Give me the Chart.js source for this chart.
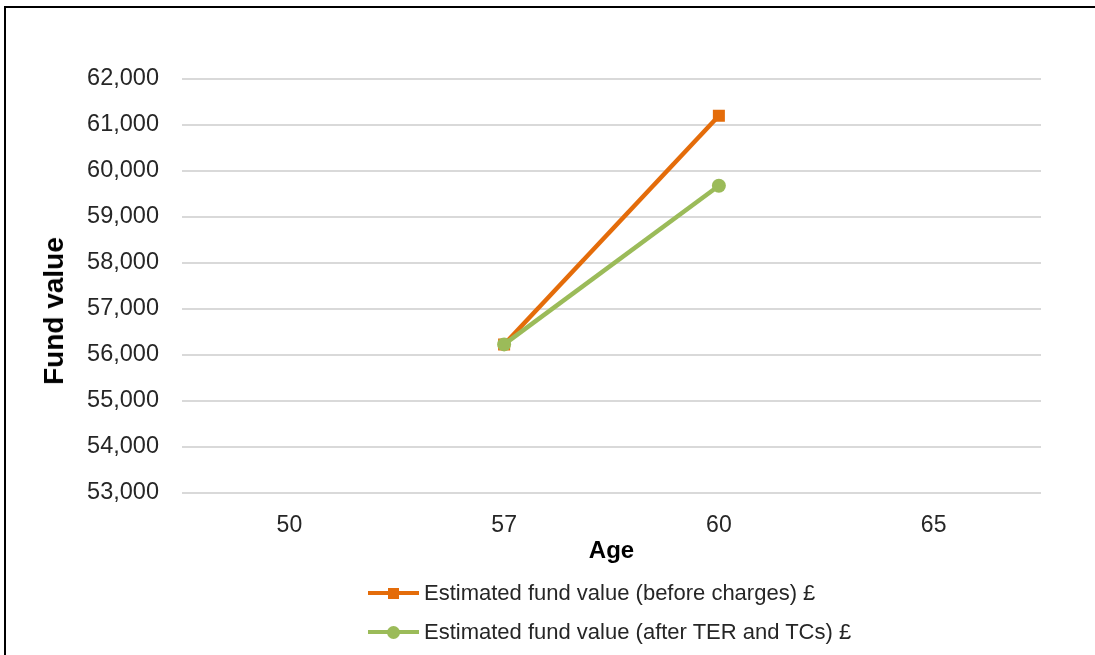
<!DOCTYPE html>
<html>
<head>
<meta charset="utf-8">
<script src="https://cdn.jsdelivr.net/npm/chart.js@4"></script>
<style>
  body { margin: 0; background: #fff; }
  #wrap { position: relative; width: 1095px; height: 655px; overflow: hidden; font-family: "Liberation Sans", Arial, sans-serif; }
  #frame { position: absolute; left: 4px; top: 6px; width: 1200px; height: 700px; border-left: 2px solid #000; border-top: 2px solid #000; }
  canvas { position: absolute; left: 0; top: 0; }
  #ytitle { position: absolute; left: 54px; top: 311px; font-size: 28px; font-weight: bold; color: #000; white-space: nowrap; transform: translate(-50%, -50%) rotate(-90deg); }
  .leg { position: absolute; left: 368px; font-size: 22px; color: #262626; white-space: nowrap; }
  .leg .ln { position: absolute; left: 0; top: 50%; width: 51px; height: 4px; margin-top: -2px; }
  .leg .mk { position: absolute; top: 50%; }
  .leg span.t { position: absolute; left: 56px; top: 0; transform: translateY(-50%); }
</style>
</head>
<body>
<div id="wrap">
  <div id="frame"></div>
  <canvas id="chart" width="1095" height="655"></canvas>
  <div id="ytitle">Fund value</div>
  <div class="leg" style="top:593px">
    <div class="ln" style="background:#E46C0A"></div>
    <div class="mk" style="width:11px;height:11px;margin-top:-5.5px;background:#E46C0A;left:20px"></div>
    <span class="t">Estimated fund value (before charges) £</span>
  </div>
  <div class="leg" style="top:632px">
    <div class="ln" style="background:#9BBB59"></div>
    <div class="mk" style="width:13px;height:13px;margin-top:-6.5px;border-radius:50%;background:#9BBB59;left:19px"></div>
    <span class="t">Estimated fund value (after TER and TCs) £</span>
  </div>
</div>
<script>
// Fund value projection by age

const ages = ["50", "57", "60", "65"];
const beforeCharges = [null, 56230, 61200, null];
const afterCharges = [null, 56230, 59680, null];
const yTicks = [53000, 54000, 55000, 56000, 57000, 58000, 59000, 60000, 61000, 62000];

const textColor = "#262626";
const gridColor = "#d9d9d9";

new Chart(document.getElementById("chart"), {
  type: "line",
  data: {
    labels: ages,
    datasets: [
      {
        label: "Estimated fund value (after TER and TCs) £",
        data: afterCharges,
        borderColor: "#9BBB59",
        backgroundColor: "#9BBB59",
        borderWidth: 4.5,
        pointStyle: "circle",
        pointRadius: 7,
        pointBorderWidth: 0,
        order: 0
      },
      {
        label: "Estimated fund value (before charges) £",
        data: beforeCharges,
        borderColor: "#E46C0A",
        backgroundColor: "#E46C0A",
        borderWidth: 4.5,
        pointStyle: "rect",
        pointRadius: 8.5,
        pointBorderWidth: 0,
        order: 1
      }
    ]
  },
  options: {
    responsive: false,
    animation: false,
    layout: { padding: { left: 0, right: 54, top: 79, bottom: 89 } },
    plugins: {
      legend: { display: false },
      tooltip: { enabled: false }
    },
    scales: {
      x: {
        offset: true,
        grid: { display: false, drawTicks: false },
        border: { display: false },
        ticks: { color: textColor, font: { family: "Liberation Sans", size: 23 }, padding: 19, maxRotation: 0 },
        title: { display: true, text: "Age", color: "#000", font: { family: "Liberation Sans", size: 24, weight: "bold" }, padding: { top: 0, bottom: 0 } },
        afterFit: s => { s.height = 73; }
      },
      y: {
        min: yTicks[0],
        max: yTicks[yTicks.length - 1],
        afterBuildTicks: s => { s.ticks = yTicks.map(v => ({ value: v })); },
        grid: { color: gridColor, lineWidth: 2, drawTicks: false },
        border: { display: false },
        ticks: {
          color: textColor,
          font: { family: "Liberation Sans", size: 23.5 },
          padding: 23,
          callback: v => v.toLocaleString("en-GB")
        },
        title: { display: false },
        afterFit: s => { s.width = 182; }
      }
    }
  }
});
</script>
</body>
</html>
